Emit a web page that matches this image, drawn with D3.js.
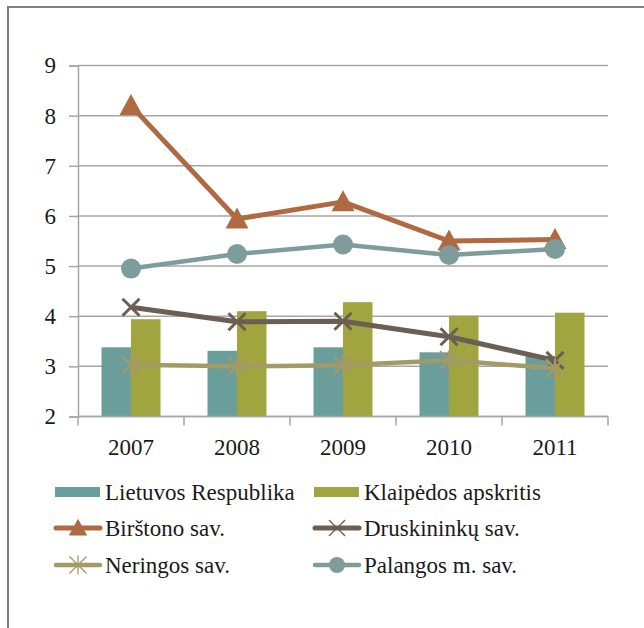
<!DOCTYPE html>
<html>
<head>
<meta charset="utf-8">
<script src="https://cdn.jsdelivr.net/npm/d3@7"></script>
<style>
html,body{margin:0;padding:0;background:#fff;}
svg{display:block;}
svg text{font-family:'Liberation Serif','Times New Roman',Times,'DejaVu Serif',serif !important;fill:#1a1a1a;}
</style>
</head>
<body>
<svg id="chart" width="644" height="628"></svg>
<script>
const years = ["2007","2008","2009","2010","2011"];
const yTicks = [2,3,4,5,6,7,8,9];
const lietuvos = [3.38,3.31,3.38,3.28,3.21];
const klaipedos = [3.94,4.10,4.28,4.01,4.07];
const birstono = [8.20,5.94,6.28,5.50,5.53];
const druskininku = [4.18,3.89,3.90,3.59,3.12];
const neringos = [3.03,3.00,3.02,3.12,2.96];
const palangos = [4.95,5.24,5.43,5.22,5.34];

const barSeries = [
  {name:"Lietuvos Respublika", values:lietuvos, color:"#6a9e9a"},
  {name:"Klaipėdos apskritis", values:klaipedos, color:"#a0a53f"}
];
const lineSeries = [
  {name:"Birštono sav.", values:birstono, color:"#b06a42", marker:"triangle", width:5},
  {name:"Druskininkų sav.", values:druskininku, color:"#6b5e52", marker:"x", width:5},
  {name:"Neringos sav.", values:neringos, color:"#a39a66", marker:"star", width:4.5},
  {name:"Palangos m. sav.", values:palangos, color:"#7f9c9c", marker:"circle", width:4.5}
];

const FONT = "'Liberation Serif','Times New Roman',Times,serif";
const svg = d3.select("#chart");
// outer frame
svg.append("rect").attr("x",8).attr("y",7).attr("width",700).attr("height",700)
  .attr("fill","none").attr("stroke","#808080").attr("stroke-width",2);

const x0 = 78, x1 = 608, yTop = 65.5, yBot = 416.5;
const x = d3.scaleBand().domain(years).range([x0,x1]).paddingInner(0).paddingOuter(0);
const y = d3.scaleLinear().domain([2,9]).range([yBot,yTop]);
const bw = 29.5;
const xb = d3.scaleBand().domain(barSeries.map(d=>d.name)).range([0,bw*2]);

// grid
svg.append("g").selectAll("line").data(yTicks).join("line")
  .attr("x1",x0).attr("x2",x1).attr("y1",d=>y(d)).attr("y2",d=>y(d))
  .attr("stroke","#a6a6a6").attr("stroke-width",1.5);

// y axis
const yAxis = svg.append("g").attr("transform",`translate(${x0},0)`)
  .call(d3.axisLeft(y).tickValues(yTicks).tickSize(9).tickPadding(13).tickFormat(d3.format("d")));
yAxis.attr("font-family",FONT).attr("font-size",23);
yAxis.select(".domain").attr("stroke","#a6a6a6").attr("stroke-width",1.5);
yAxis.selectAll(".tick line").attr("stroke","#a6a6a6").attr("stroke-width",1.5);
yAxis.selectAll("text").attr("style",`font-family:${FONT};font-size:23px;fill:#1a1a1a`);

// bars
barSeries.forEach(s=>{
  svg.append("g").selectAll("rect").data(s.values).join("rect")
    .attr("x",(d,i)=>x(years[i])+x.bandwidth()/2-bw+xb(s.name))
    .attr("width",xb.bandwidth())
    .attr("y",d=>y(d)).attr("height",d=>yBot-y(d))
    .attr("fill",s.color);
});

// x axis
const xAxisG = svg.append("g").attr("transform",`translate(0,${yBot})`);
xAxisG.append("line").attr("x1",x0).attr("x2",x1).attr("stroke","#a6a6a6").attr("stroke-width",1.5);
const bounds = years.map(d=>x(d)).concat([x1]);
xAxisG.selectAll("line.tk").data(bounds).join("line").attr("class","tk")
  .attr("x1",d=>d).attr("x2",d=>d).attr("y1",0).attr("y2",9)
  .attr("stroke","#a6a6a6").attr("stroke-width",1.5);
xAxisG.selectAll("text").data(years).join("text")
  .attr("x",d=>x(d)+x.bandwidth()/2).attr("y",38)
  .attr("text-anchor","middle").attr("style",`font-family:${FONT};font-size:23px;fill:#1a1a1a`).text(d=>d);

function drawMarker(g, type, color, cx, cy, scale, sw){
  scale = scale||1;
  if(type==="triangle"){
    const h=21*scale, w=23*scale;
    g.append("path").attr("d",`M${cx},${cy-h*0.55}L${cx+w/2},${cy+h*0.45}L${cx-w/2},${cy+h*0.45}Z`).attr("fill",color);
  } else if(type==="circle"){
    g.append("circle").attr("cx",cx).attr("cy",cy).attr("r",10*scale).attr("fill",color);
  } else if(type==="x"){
    const r=8.5*scale;
    g.append("path").attr("d",`M${cx-r},${cy-r}L${cx+r},${cy+r}M${cx-r},${cy+r}L${cx+r},${cy-r}`)
      .attr("stroke",color).attr("stroke-width",sw||3).attr("fill","none");
  } else if(type==="star"){
    const r=9*scale;
    g.append("path").attr("d",`M${cx-r},${cy-r}L${cx+r},${cy+r}M${cx-r},${cy+r}L${cx+r},${cy-r}M${cx},${cy-r*1.1}L${cx},${cy+r*1.1}`)
      .attr("stroke",color).attr("stroke-width",sw||2.2).attr("fill","none");
  }
}

// lines
const line = d3.line().x((d,i)=>x(years[i])+x.bandwidth()/2).y(d=>y(d));
lineSeries.forEach(s=>{
  const g = svg.append("g");
  g.append("path").datum(s.values).attr("d",line).attr("fill","none")
    .attr("stroke",s.color).attr("stroke-width",s.width).attr("stroke-linejoin","round");
  s.values.forEach((v,i)=>drawMarker(g,s.marker,s.color,x(years[i])+x.bandwidth()/2,y(v)));
});

// legend
const legendItems = barSeries.map(d=>({...d,type:"bar"})).concat(lineSeries.map(d=>({...d,type:"line"})));
const colX = [55,314], rowY = [492,528,565];
legendItems.forEach((d,i)=>{
  const cx = colX[i%2], cy = rowY[Math.floor(i/2)];
  const g = svg.append("g");
  if(d.type==="bar"){
    g.append("rect").attr("x",cx).attr("y",cy-5).attr("width",45).attr("height",10).attr("fill",d.color);
  } else {
    g.append("line").attr("x1",cx+1).attr("x2",cx+45).attr("y1",cy).attr("y2",cy)
      .attr("stroke",d.color).attr("stroke-width",d.width).attr("stroke-linecap","round");
    drawMarker(g,d.marker,d.color,cx+23,cy,d.marker==="x"||d.marker==="star"?0.95:0.8,1.3);
  }
  g.append("text").attr("x",cx+50).attr("y",cy).attr("dy","0.33em")
    .attr("style",`font-family:${FONT};font-size:23px;fill:#1a1a1a`).text(d.name);
});
</script>
</body>
</html>
